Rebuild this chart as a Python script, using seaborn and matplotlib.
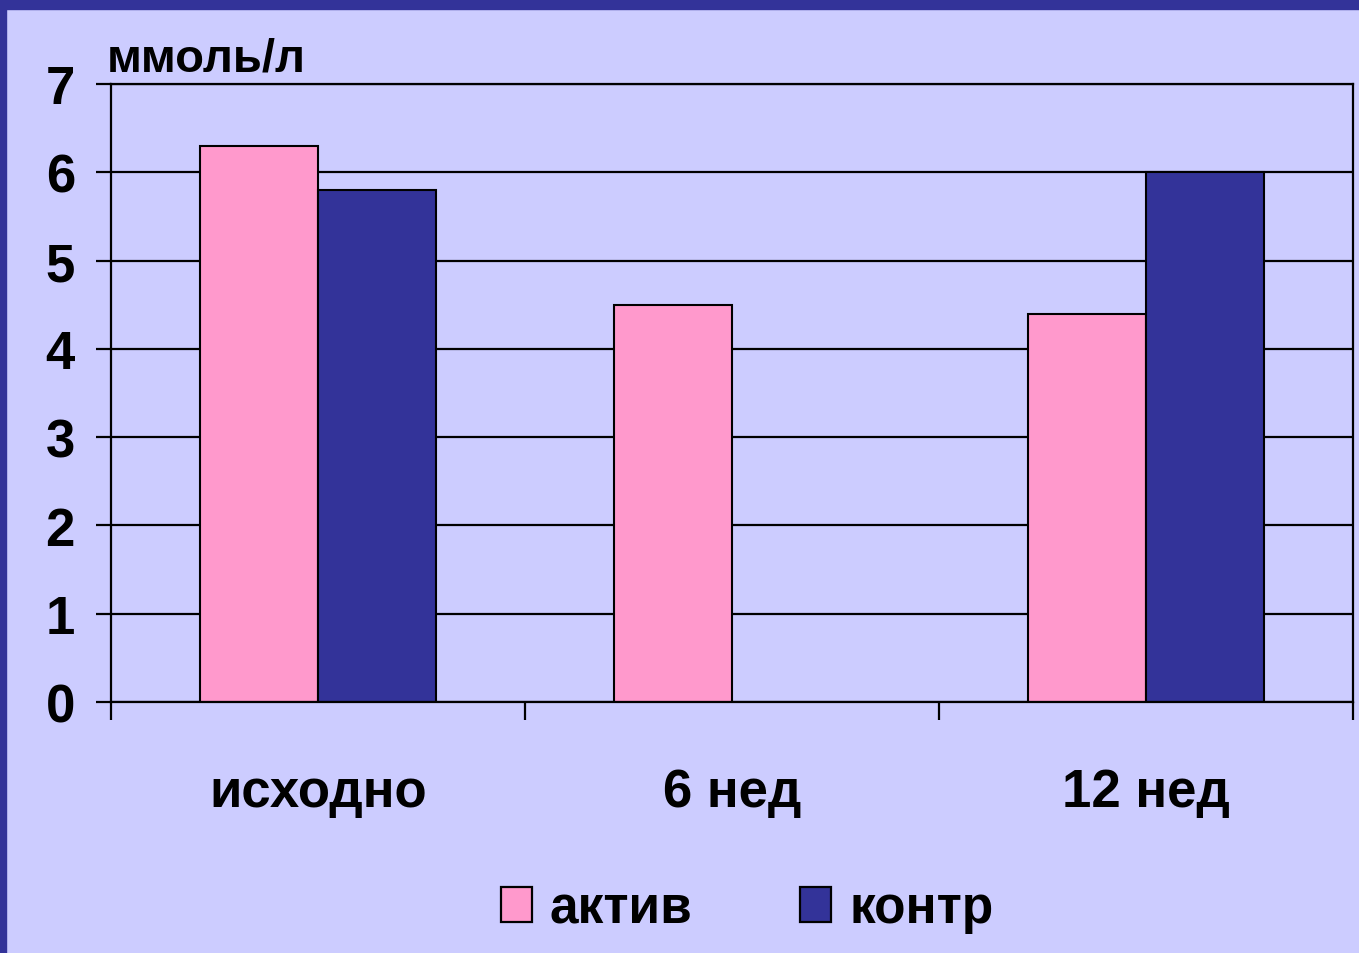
import numpy as np
import pandas as pd
from matplotlib import pyplot as plt
from matplotlib.patches import Rectangle
import seaborn as sns

periods = ["исходно", "6 нед", "12 нед"]
aktiv = [6.3, 4.5, 4.4]
kontr = [5.8, np.nan, 6.0]
groups = ["актив", "контр"]
yticks = [0, 1, 2, 3, 4, 5, 6, 7]

bg = "#CCCCFF"
navy = "#333399"
pink = "#FF99CC"

df = pd.DataFrame({
    "period": periods * 2,
    "value": aktiv + kontr,
    "group": [groups[0]] * 3 + [groups[1]] * 3,
})

sns.set_style("white")
plt.rcParams["font.family"] = ["Liberation Sans", "DejaVu Sans"]
plt.rcParams["font.weight"] = "bold"
plt.rcParams["text.color"] = "black"
plt.rcParams["xtick.color"] = "black"
plt.rcParams["ytick.color"] = "black"

fig = plt.figure(figsize=(13.59, 9.54), dpi=100, facecolor=bg)
ax = fig.add_axes([111 / 1359, 1 - 703 / 954, (1353 - 111) / 1359, (703 - 85) / 954])
ax.set_facecolor(bg)

sns.barplot(
    data=df, x="period", y="value", hue="group", order=periods,
    hue_order=groups, palette={"актив": pink, "контр": navy},
    width=0.57, edgecolor="black", linewidth=1.5, errorbar=None,
    saturation=1, ax=ax,
)

ax.set_ylim(0, 7)
ax.set_xlim(-0.5, 2.5)
ax.set_yticks(yticks)
ax.yaxis.grid(True, color="black", linewidth=1.6)
ax.set_axisbelow(True)
for s in ax.spines.values():
    s.set_color("black")
    s.set_linewidth(1.6)
ax.set_xlabel("")
ax.set_ylabel("")
ax.set_xticks([-0.5, 0.5, 1.5, 2.5], minor=True)
ax.tick_params(axis="x", which="major", bottom=True, length=0, pad=47, labelsize=38, labelcolor="black")
ax.tick_params(axis="x", which="minor", bottom=True, length=13, width=1.6, direction="out", color="black")
ax.tick_params(axis="y", left=True, length=11, width=1.6, direction="out", color="black",
               pad=15, labelsize=38, labelcolor="black")
for lbl in ax.get_xticklabels() + ax.get_yticklabels():
    lbl.set_fontweight("bold")

fig.text(107 / 1359, 1 - 71 / 954, "ммоль/л", fontsize=34, fontweight="bold",
         va="baseline", ha="left", color="black")

leg = ax.legend(
    loc="center", bbox_to_anchor=(747 / 1359, 1 - 910 / 954), bbox_transform=fig.transFigure,
    ncol=2, frameon=False, prop={"size": 37, "weight": "bold"},
    handlelength=0.6, handleheight=0.65, handletextpad=0.35, columnspacing=2.1,
)
for h in leg.legend_handles:
    h.set_edgecolor("black")
    h.set_linewidth(1.6)
for t in leg.get_texts():
    t.set_color("black")

fig.add_artist(Rectangle((0, 1 - 10 / 954), 1, 10 / 954, transform=fig.transFigure, color=navy, zorder=10))
fig.add_artist(Rectangle((0, 0), 6 / 1359, 1, transform=fig.transFigure, color=navy, zorder=10))

fig.savefig("out.png", dpi=100, facecolor=bg)
